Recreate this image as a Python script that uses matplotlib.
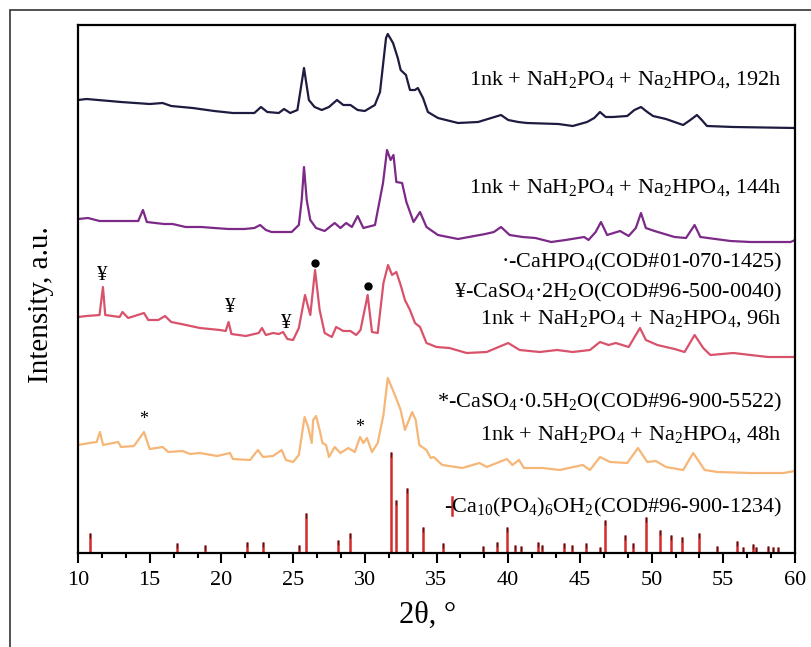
import matplotlib
matplotlib.use("Agg")
import matplotlib.pyplot as plt
from matplotlib.ticker import MultipleLocator
from matplotlib.patches import Rectangle
import numpy as np

plt.rcParams['font.family'] = ['Liberation Serif', 'DejaVu Serif']
plt.rcParams['mathtext.fontset'] = 'custom'
plt.rcParams['mathtext.rm'] = 'Liberation Serif'
plt.rcParams['mathtext.it'] = 'Liberation Serif:italic'
plt.rcParams['mathtext.bf'] = 'Liberation Serif:bold'

# ---- data (2theta, intensity a.u.) ----
tt_192 = [10.0, 10.6, 13.0, 15.0, 15.9, 16.5, 18.0, 19.5, 20.8, 22.3, 22.76, 23.2, 24.0, 24.37, 24.8, 25.3,
          25.76, 26.1, 26.5, 27.0, 27.5, 28.06, 28.5, 29.0, 29.5, 30.0, 30.7, 31.06, 31.27, 31.48, 31.6,
          31.97, 32.3, 32.5, 32.87, 33.15, 33.5, 33.7, 34.06, 34.4, 35.1, 36.5, 37.9, 39.5, 40.0, 40.7,
          41.3, 43.5, 44.5, 45.5, 46.0, 46.4, 46.8, 47.3, 48.3, 48.8, 49.26, 49.7, 50.1, 51.0, 52.2, 52.7,
          53.16, 53.5, 53.86, 55.7, 60.0]
I_192 = [33, 34, 31, 29, 30, 27, 25, 22, 20, 20, 26, 21, 20, 24, 20, 23,
         65, 33, 26, 23, 26, 33, 28, 28, 23, 22, 28, 41, 68, 95, 99,
         90, 75, 63, 58, 43, 43, 45, 35, 21, 15, 10, 11, 18, 13, 11,
         10, 9, 7, 11, 15, 21, 16, 16, 17, 23, 26, 21, 17, 14, 8, 13,
         18, 13, 7, 6, 5]

tt_144 = [10.0, 10.7, 11.5, 13.0, 14.2, 14.53, 14.8, 16.0, 16.6, 17.5, 18.6, 19.5, 20.5, 21.6, 22.3, 22.7,
          23.1, 23.5, 24.9, 25.4, 25.6, 25.76, 25.95, 26.2, 26.6, 27.2, 27.9, 28.3, 28.7, 29.1, 29.5, 29.9,
          30.71, 31.27, 31.55, 31.8, 32.0, 32.2, 32.6, 32.9, 33.4, 33.85, 34.3, 35.1, 36.5, 38.4, 39.0,
          39.5, 40.1, 41.0, 41.9, 43.0, 44.0, 45.3, 45.6, 46.1, 46.47, 46.9, 47.8, 48.4, 48.9, 49.26, 49.6,
          50.2, 51.6, 52.4, 53.0, 53.4, 55.5, 56.9, 59.7, 60.0]
I_144 = [29, 30, 27, 27, 27, 38, 26, 24, 24, 21, 21, 20, 19, 19, 20, 23,
         18, 16, 16, 23, 48, 81, 48, 28, 20, 17, 25, 20, 25, 21, 32, 20,
         23, 65, 98, 88, 93, 66, 65, 46, 26, 36, 21, 13, 9, 14, 16,
         21, 13, 11, 10, 6, 8, 11, 8, 16, 26, 13, 17, 12, 20, 35, 20,
         17, 11, 10, 23, 11, 7, 6, 6, 8]

tt_96 = [10.0, 10.6, 11.5, 11.74, 11.9, 12.9, 13.1, 13.5, 14.6, 14.9, 15.6, 16.07, 16.5, 17.2, 18.5, 19.9,
         20.3, 20.5, 20.7, 21.7, 22.6, 22.83, 23.1, 23.6, 24.0, 24.3, 24.6, 25.0, 25.4, 25.83, 26.2, 26.53,
         26.85, 27.2, 27.7, 28.0, 28.5, 29.0, 29.4, 29.7, 30.2, 30.5, 30.9, 31.3, 31.62, 31.9, 32.2, 32.5,
         32.8, 33.15, 33.5, 33.85, 34.3, 35.0, 35.9, 37.1, 38.5, 40.0, 40.8, 42.2, 43.4, 44.5, 45.7, 46.4,
         47.0, 47.5, 48.4, 49.19, 49.6, 50.4, 51.6, 52.3, 53.0, 53.6, 54.1, 55.7, 58.1, 60.0]
I_96 = [46, 47, 48, 76, 48, 46, 51, 45, 50, 43, 43, 47, 41, 39, 35, 33,
        32, 41, 29, 27, 30, 35, 28, 30, 29, 31, 24, 23, 35, 68, 48, 93,
        53, 30, 26, 36, 32, 32, 28, 33, 68, 31, 30, 80, 98, 88, 91, 78,
        63, 53, 40, 36, 20, 16, 15, 10, 11, 20, 13, 11, 13, 11, 13, 21,
        18, 20, 16, 35, 23, 18, 14, 11, 28, 15, 8, 10, 6, 6]

tt_48 = [10.0, 10.8, 11.3, 11.53, 11.75, 12.8, 13.0, 13.9, 14.6, 15.0, 15.9, 16.3, 17.3, 17.8, 18.5, 19.7,
         20.6, 20.8, 22.0, 22.55, 22.9, 23.6, 24.2, 24.5, 25.0, 25.4, 25.8, 26.05, 26.3, 26.4, 26.6, 26.85,
         27.05, 27.3, 27.5, 27.9, 28.3, 28.85, 29.3, 29.67, 29.9, 30.15, 30.5, 30.9, 31.3, 31.6, 32.1,
         32.5, 32.8, 33.3, 33.55, 33.8, 34.3, 34.6, 34.8, 35.4, 36.8, 38.0, 38.5, 39.9, 40.3, 40.75, 41.1,
         42.4, 43.6, 45.2, 45.7, 46.4, 47.1, 48.3, 49.05, 49.7, 50.3, 51.0, 52.2, 52.9, 53.7, 54.6, 56.9,
         59.2, 60.0]
I_48 = [33, 35, 36, 46, 33, 36, 31, 32, 46, 29, 31, 26, 27, 24, 25, 22,
        25, 19, 18, 28, 21, 22, 28, 18, 16, 23, 61, 51, 35, 58, 62, 48,
        35, 33, 21, 31, 25, 30, 26, 41, 35, 40, 26, 35, 63, 100, 83,
        68, 48, 66, 58, 33, 28, 20, 21, 13, 10, 15, 11, 19, 13, 18, 10,
        10, 8, 13, 8, 21, 16, 15, 30, 16, 17, 11, 8, 25, 8, 6, 5,
        5, 7]

# reference pattern Ca10(PO4)6(OH)2
ref_tt = [10.84, 16.9, 18.86, 21.8, 22.9, 25.4, 25.9, 28.13, 28.96, 31.83, 32.2, 32.94, 34.06, 35.45,
          38.24, 39.2, 39.9, 40.47, 40.9, 42.08, 42.37, 43.9, 44.45, 45.42, 46.4, 46.75, 48.14, 48.7,
          49.6, 50.6, 51.35, 52.1, 53.3, 54.56, 55.95, 56.4, 57.07, 57.3, 58.1, 58.47, 58.8]
ref_I = [20, 10, 8, 11, 11, 8, 40, 13, 20, 101, 53, 65, 26, 10,
         7, 11, 26, 8, 7, 11, 8, 10, 8, 10, 6, 33, 18, 10,
         36, 23, 18, 16, 20, 7, 12, 6, 9, 6, 7, 6, 6]

labels = ["1nk + NaH$_2$PO$_4$ + Na$_2$HPO$_4$, 192h",
          "1nk + NaH$_2$PO$_4$ + Na$_2$HPO$_4$, 144h",
          "1nk + NaH$_2$PO$_4$ + Na$_2$HPO$_4$, 96h",
          "1nk + NaH$_2$PO$_4$ + Na$_2$HPO$_4$, 48h"]
phase_labels = ["·-CaHPO$_4$(COD#01-070-1425)",
                "¥-CaSO$_4$·2H$_2$O(COD#96-500-0040)",
                "*-CaSO$_4$·0.5H$_2$O(COD#96-900-5522)",
                "-Ca$_{10}$(PO$_4$)$_6$OH$_2$(COD#96-900-1234)"]

# phase markers on curves: (2theta, height)
yen_tt = [11.67, 20.6, 24.5]
yen_y = [277, 246, 230]
dot_tt = [26.53, 30.2]
dot_y = [290, 267]
star_tt = [14.6, 29.67]
star_y = [133, 125]

# ---- layout ----
offsets = [420, 305, 190, 75]
colors = ['#1d1b40', '#7b2a87', '#d9526b', '#f6b677']
W, H = 811, 647
fig = plt.figure(figsize=(W/100, H/100), dpi=100)
ax = fig.add_axes([78/W, 1-553/H, (795-78)/W, (553-25)/H])

series = [(tt_192, I_192), (tt_144, I_144), (tt_96, I_96), (tt_48, I_48)]
for (tt, I), off, c in zip(series, offsets, colors):
    ax.plot(tt, np.array(I) + off, color=c, lw=1.6, solid_joinstyle='round')

# stick pattern
ref_I_arr = np.array(ref_I)
ax.vlines(ref_tt, 0, ref_I_arr, color='#d42a2a', lw=1.8)
ax.vlines(ref_tt, np.maximum(ref_I_arr - 5, 0), ref_I_arr, color='#3a2020', lw=0.9)

ax.set_xlim(10, 60)
ax.set_ylim(0, 528)
ax.set_yticks([])
ax.xaxis.set_major_locator(MultipleLocator(5))
ax.xaxis.set_minor_locator(MultipleLocator(5/3))
ax.tick_params(axis='x', which='major', direction='out', length=7, width=1.5, labelsize=16, pad=6)
ax.tick_params(axis='x', which='minor', direction='out', length=3.5, width=1.5)
for s in ax.spines.values():
    s.set_linewidth(1.6)

ax.set_xlabel("2θ, °", fontsize=22)
ax.xaxis.set_label_coords(0.488, -0.09)
ax.set_ylabel("Intensity, a.u.", fontsize=21)
ax.yaxis.set_label_coords(-0.034, 0.47)

xr = 59.1
fs = 16
ax.text(xr, 468, labels[0], ha='right', va='baseline', fontsize=fs)
ax.text(xr, 360, labels[1], ha='right', va='baseline', fontsize=fs)
ax.text(xr, 286, phase_labels[0], ha='right', va='baseline', fontsize=fs)
ax.text(xr, 256, phase_labels[1], ha='right', va='baseline', fontsize=fs)
ax.text(xr, 229, labels[2], ha='right', va='baseline', fontsize=fs)
ax.text(xr, 146, phase_labels[2], ha='right', va='baseline', fontsize=fs)
ax.text(xr, 113, labels[3], ha='right', va='baseline', fontsize=fs)
ax.text(xr, 41, phase_labels[3], ha='right', va='baseline', fontsize=fs)
ax.plot([36.1, 36.1], [38, 56], color='#d42a2a', lw=1.8)

for x, y in zip(yen_tt, yen_y):
    ax.text(x, y, "¥", ha='center', va='center', fontsize=15)
ax.plot(dot_tt, dot_y, 'o', color='black', ms=5)
for x, y in zip(star_tt, star_y):
    ax.text(x, y, "*", ha='center', va='center', fontsize=13)

# outer frame
fig.add_artist(Rectangle((10/W, -0.5), 2, 0.5 + 1 - 10/H, transform=fig.transFigure,
                         fill=False, edgecolor='#333333', lw=1.2))

fig.savefig("out.png", dpi=100)
